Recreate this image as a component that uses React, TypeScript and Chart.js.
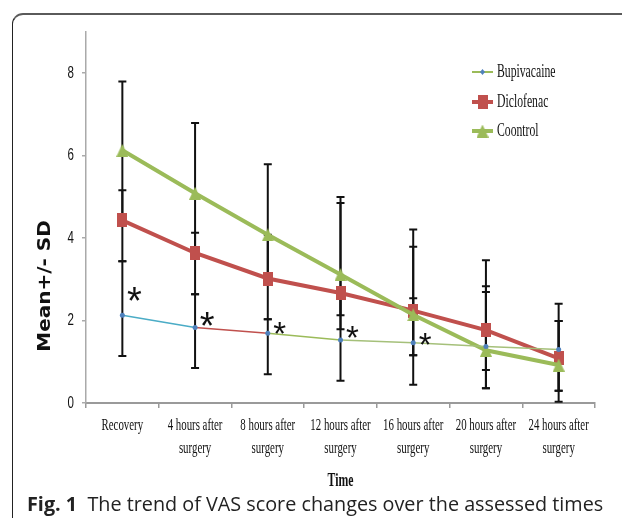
import React, { useEffect, useRef } from 'react';
import { Chart, registerables } from 'chart.js';

Chart.register(...registerables);

// ---------- data ----------
const categories: string[][] = [
  ['Recovery'],
  ['4 hours after', 'surgery'],
  ['8 hours after', 'surgery'],
  ['12 hours after', 'surgery'],
  ['16 hours after', 'surgery'],
  ['20 hours after', 'surgery'],
  ['24 hours after', 'surgery'],
];
const yTicks = [0, 2, 4, 6, 8];

const bupivacaine = [2.13, 1.83, 1.69, 1.53, 1.46, 1.37, 1.3];
const diclofenac = [4.43, 3.64, 3.02, 2.67, 2.24, 1.77, 1.08];
const control = [6.13, 5.09, 4.08, 3.12, 2.14, 1.28, 0.92];

const bupivacaineLow = [1.14, 0.85, 0.7, 0.54, 1.16, 0.8, 0.3];
const bupivacaineHigh = [3.44, 2.64, 2.03, 2.67, 2.54, 2.83, 1.99];
const diclofenacLow = [3.44, 2.64, 2.03, 2.13, 1.16, 0.36, 0.3];
const diclofenacHigh = [5.16, 4.13, 4.08, 4.85, 4.21, 3.46, 2.41];
const controlLow = [4.46, 3.64, 3.02, 1.79, 0.44, 0.36, 0.03];
const controlHigh = [7.8, 6.79, 5.79, 5.0, 3.79, 2.69, 1.99];

// heights (in score units) of the significance asterisks, first five time points
const starLevels = [2.69, 2.09, 1.86, 1.77, 1.6];

const seriesNames = ['Bupivacaine', 'Diclofenac', 'Coontrol'];

// ---------- style ----------
const RED = '#c0504d';
const GREEN = '#9bbb59';
const BLUE = '#4f81bd';
const bupiSegmentColors = ['#4bacc6', '#c0504d', '#9bbb59', '#a5c07a', '#a5c07a', '#a5c07a'];

function makeRect(w: number, h: number, color: string) {
  const c = document.createElement('canvas');
  c.width = w;
  c.height = h;
  const g = c.getContext('2d')!;
  g.fillStyle = color;
  g.fillRect(0, 0, w, h);
  return c;
}
function makeTriangle(w: number, h: number, color: string) {
  const c = document.createElement('canvas');
  c.width = w;
  c.height = h;
  const g = c.getContext('2d')!;
  g.fillStyle = color;
  g.beginPath();
  g.moveTo(w / 2, 0);
  g.lineTo(w, h);
  g.lineTo(0, h);
  g.closePath();
  g.fill();
  return c;
}

function cond(
  ctx: CanvasRenderingContext2D,
  text: string,
  x: number,
  y: number,
  font: string,
  sx: number,
  align: CanvasTextAlign
) {
  ctx.save();
  ctx.translate(x, y);
  ctx.scale(sx, 1);
  ctx.font = font;
  ctx.textAlign = align;
  ctx.textBaseline = 'middle';
  ctx.fillStyle = '#111';
  ctx.fillText(text, 0, 0);
  ctx.restore();
}

export default function App() {
  const ref = useRef<HTMLCanvasElement | null>(null);

  useEffect(() => {
    if (!ref.current) return;
    const square = makeRect(10, 14, RED);
    const tri = makeTriangle(12, 13, GREEN);

    const errorBars = [
      { low: bupivacaineLow, high: bupivacaineHigh },
      { low: diclofenacLow, high: diclofenacHigh },
      { low: controlLow, high: controlHigh },
    ];

    const plugin = {
      id: 'custom',
      beforeDatasetsDraw(chart: any) {
        const ctx = chart.ctx as CanvasRenderingContext2D;
        const xs = chart.scales.x;
        const ys = chart.scales.y;
        ctx.save();
        ctx.strokeStyle = '#111';
        ctx.lineWidth = 2;
        errorBars.forEach((eb) => {
          eb.low.forEach((lo, i) => {
            const hi = eb.high[i];
            const px = xs.getPixelForValue(i);
            const y1 = ys.getPixelForValue(lo);
            const y2 = ys.getPixelForValue(hi);
            ctx.beginPath();
            ctx.moveTo(px, y1);
            ctx.lineTo(px, y2);
            ctx.moveTo(px - 4, y1);
            ctx.lineTo(px + 4, y1);
            ctx.moveTo(px - 4, y2);
            ctx.lineTo(px + 4, y2);
            ctx.stroke();
          });
        });
        ctx.restore();
      },
      afterDraw(chart: any) {
        const ctx = chart.ctx as CanvasRenderingContext2D;
        const xs = chart.scales.x;
        const ys = chart.scales.y;
        const area = chart.chartArea;

        // y tick labels
        yTicks.forEach((v) =>
          cond(ctx, String(v), area.left - 12, ys.getPixelForValue(v), '16.5px "Liberation Sans", Arial, sans-serif', 0.7, 'right')
        );
        // x tick labels
        categories.forEach((lines, i) => {
          const cx = xs.getPixelForValue(i);
          lines.forEach((t, k) =>
            cond(ctx, t, cx, area.bottom + 22 + k * 23, '17.5px "Liberation Serif", "Times New Roman", serif', 0.62, 'center')
          );
        });
        // x title
        cond(ctx, 'Time', (area.left + area.right) / 2, area.bottom + 78, 'bold 19px "Liberation Serif", serif', 0.62, 'center');

        // y title
        ctx.save();
        ctx.translate(46, 286);
        ctx.rotate(-Math.PI / 2);
        ctx.scale(1, 0.85);
        ctx.font = 'bold 20px "DejaVu Sans", sans-serif';
        ctx.textAlign = 'center';
        ctx.textBaseline = 'middle';
        ctx.fillStyle = '#111';
        ctx.fillText('Mean+/- SD', 0, 0);
        ctx.restore();

        // asterisks
        starLevels.forEach((v, i) => {
          const size = i < 2 ? 38 : 33;
          const cx = xs.getPixelForValue(i) + 12;
          const cy = ys.getPixelForValue(v);
          ctx.save();
          ctx.font = `${size}px "Liberation Sans", Arial, sans-serif`;
          ctx.textAlign = 'center';
          ctx.textBaseline = 'alphabetic';
          ctx.fillStyle = '#111';
          ctx.fillText('*', cx, cy + 0.57 * size);
          ctx.restore();
        });

        // legend
        const lx0 = 472;
        const lx1 = 493;
        const legendY = [area.top + 40, area.top + 70, area.top + 99];
        ctx.save();
        // Bupivacaine
        ctx.strokeStyle = GREEN;
        ctx.lineWidth = 2;
        ctx.beginPath();
        ctx.moveTo(lx0, legendY[0]);
        ctx.lineTo(lx1, legendY[0]);
        ctx.stroke();
        ctx.fillStyle = BLUE;
        ctx.beginPath();
        const mx = (lx0 + lx1) / 2;
        ctx.moveTo(mx, legendY[0] - 3);
        ctx.lineTo(mx + 2.5, legendY[0]);
        ctx.lineTo(mx, legendY[0] + 3);
        ctx.lineTo(mx - 2.5, legendY[0]);
        ctx.closePath();
        ctx.fill();
        // Diclofenac
        ctx.strokeStyle = RED;
        ctx.lineWidth = 4;
        ctx.beginPath();
        ctx.moveTo(lx0, legendY[1]);
        ctx.lineTo(lx1, legendY[1]);
        ctx.stroke();
        ctx.drawImage(square, mx - square.width / 2, legendY[1] - square.height / 2);
        // Control
        ctx.strokeStyle = GREEN;
        ctx.beginPath();
        ctx.moveTo(lx0, legendY[2]);
        ctx.lineTo(lx1, legendY[2]);
        ctx.stroke();
        ctx.drawImage(tri, mx - tri.width / 2, legendY[2] - tri.height / 2);
        ctx.restore();
        seriesNames.forEach((n, i) =>
          cond(ctx, n, lx1 + 4, legendY[i], '18px "Liberation Serif", serif', 0.65, 'left')
        );
      },
    };

    const chart = new Chart(ref.current, {
      type: 'line',
      data: {
        labels: categories.map((c) => c.join(' ')),
        datasets: [
          {
            label: seriesNames[0],
            data: bupivacaine,
            borderColor: BLUE,
            borderWidth: 1.5,
            pointBackgroundColor: BLUE,
            pointBorderWidth: 0,
            pointRadius: 2.5,
            segment: { borderColor: (c: any) => bupiSegmentColors[c.p0DataIndex] },
          },
          {
            label: seriesNames[2],
            data: control,
            borderColor: GREEN,
            borderWidth: 4,
            pointStyle: tri as any,
            pointRadius: 7,
          },
          {
            label: seriesNames[1],
            data: diclofenac,
            borderColor: RED,
            borderWidth: 4,
            pointStyle: square as any,
            pointRadius: 7,
          },
        ],
      },
      options: {
        responsive: false,
        animation: false,
        layout: { padding: { left: 76, top: 32, right: 27, bottom: 119 } },
        plugins: { legend: { display: false }, tooltip: { enabled: false } },
        scales: {
          x: {
            type: 'category',
            offset: true,
            grid: { drawOnChartArea: false, tickLength: 5, color: '#9a9a9a', offset: true, lineWidth: 1.5 },
            border: { color: '#9a9a9a', width: 2 },
            ticks: { display: false },
            afterFit: (s: any) => {
              s.height = 5;
            },
          },
          y: {
            min: 0,
            max: 9,
            grid: { drawOnChartArea: false, tickLength: 4, color: '#aaaaaa', lineWidth: 1.5 },
            border: { color: '#aaaaaa', width: 1.5 },
            ticks: { display: false },
            afterBuildTicks: (s: any) => {
              s.ticks = yTicks.map((v) => ({ value: v }));
            },
            afterFit: (s: any) => {
              s.width = 10;
            },
          },
        },
      },
      plugins: [plugin],
    } as any);

    return () => chart.destroy();
  }, []);

  return (
    <div style={{ position: 'fixed', left: 0, top: 0, width: 622, height: 527, background: '#fff', overflow: 'hidden' }}>
      <div
        style={{
          position: 'absolute',
          left: 12,
          top: 13,
          width: 800,
          height: 503,
          borderTop: '2px solid #5a5a5a',
          borderLeft: '1.5px solid #222',
          borderTopLeftRadius: 11,
        }}
      />
      <canvas ref={ref} width={622} height={527} style={{ position: 'absolute', left: 0, top: 0 }} />
      <div
        style={{
          position: 'absolute',
          left: 27,
          top: 492,
          whiteSpace: 'nowrap',
          fontFamily: '"Open Sans", "Noto Sans", sans-serif',
          fontSize: 19.8,
          lineHeight: '24px',
          color: '#222',
        }}
      >
        <b>Fig. 1</b>&nbsp;&nbsp;The trend of VAS score changes over the assessed times
      </div>
    </div>
  );
}
